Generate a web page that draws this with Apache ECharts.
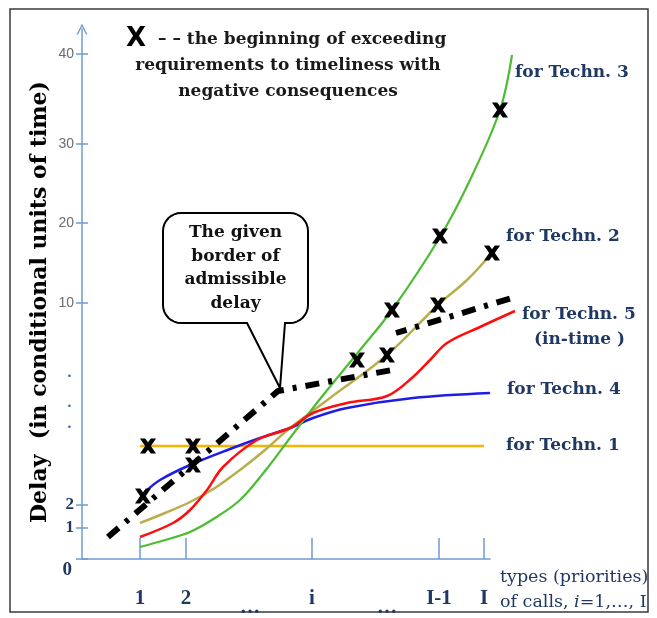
<!DOCTYPE html>
<html><head><meta charset="utf-8">
<script src="https://cdn.jsdelivr.net/npm/echarts@6/dist/echarts.min.js"></script>
<style>html,body{margin:0;padding:0;background:#fff}#c{width:657px;height:618px}</style>
</head><body><div id="c"></div>
<script>
// Axis ticks (positions in plotting units; the delay axis is drawn broken)
const xTickPos = [5.8, 10.4, 23.0, 35.7, 40.2];
const xTickLabels = ['1', '2', 'i', 'I-1', 'I'];
const xEllipsisPos = [16.8, 30.5];
const yTickPos = [0, 3.1, 5.4, 25.6, 33.6, 41.5, 50.5];
const yTickLabels = ['0', '1', '2', '10', '20', '30', '40'];
const yDotPos = [13.1, 15.2, 18.2];

// Curves
const techn1 = [[5.8, 11.3], [40.2, 11.3]];
const techn4 = [[6.3, 6.7], [7.8, 7.9], [10.8, 9.4], [14.8, 11.0], [17.8, 12.1], [20.8, 13.1], [23.1, 14.1], [26.5, 15.1], [33.1, 16.1], [40.8, 16.6]];
const techn5 = [[5.8, 2.2], [9.1, 3.6], [10.8, 4.9], [12.5, 6.9], [14.1, 9.2], [17.5, 11.9], [20.8, 13.1], [23.1, 14.6], [26.5, 15.6], [30.5, 16.3], [33.1, 18.2], [34.8, 19.9], [36.5, 21.6], [39.8, 23.2], [43.3, 24.8]];
const techn3 = [[5.8, 1.2], [8.3, 1.9], [10.8, 2.7], [13.3, 4.1], [15.8, 5.9], [18.3, 8.8], [20.8, 12.1], [23.8, 16.0], [27.8, 20.9], [31.0, 24.9], [35.8, 32.2], [38.8, 37.9], [41.8, 44.9], [43.0, 50.4]];
const techn2 = [[5.8, 3.6], [8.3, 4.6], [10.8, 5.7], [13.3, 7.1], [15.8, 8.9], [18.3, 10.9], [20.8, 13.1], [24.8, 16.1], [30.5, 20.4], [35.6, 25.4], [38.5, 27.9], [41.0, 30.6]];
const borderA = [[2.6, 2.2], [19.6, 16.8], [31.0, 18.9]];
const borderB = [[31.4, 22.6], [43.3, 26.2]];
const exceedMarks = [[6.6, 11.3], [11.1, 11.3], [11.1, 9.4], [6.1, 6.3], [27.5, 19.9], [30.5, 20.4], [31.0, 24.9], [35.6, 25.4], [35.8, 32.3], [41.0, 30.6], [41.8, 44.9]];

const serif = '"Liberation Serif","DejaVu Serif",serif';
const wserif = '"DejaVu Serif","Liberation Serif",serif';
const navy = '#1f3864';
const axisBlue = '#6f9bd3';

const yLabelMap = {};
yTickPos.forEach((v, i) => { yLabelMap[v.toFixed(1)] = yTickLabels[i]; });
yDotPos.forEach(v => { yLabelMap[v.toFixed(1)] = '•'; });
const xLabelMap = {};
xTickPos.forEach((v, i) => { xLabelMap[v.toFixed(1)] = xTickLabels[i]; });
xEllipsisPos.forEach(v => { xLabelMap[v.toFixed(1)] = '…'; });

const chart = echarts.init(document.getElementById('c'), null, {renderer: 'canvas'});

const xPath = 'path://M0,0 L6.5,0 L10,4.8 L13.5,0 L20,0 L13.6,9.5 L20,19 L13.5,19 L10,14.2 L6.5,19 L0,19 L6.4,9.5 Z';

function lineSeries(name, data, color, width) {
  return {name, type: 'line', data, smooth: 0.35, symbol: 'none', clip: false,
    xAxisIndex: 0, yAxisIndex: 0, lineStyle: {color, width}, z: 3};
}

chart.setOption({
  animation: false,
  backgroundColor: '#fff',
  grid: [
    {left: 82, right: 140, top: 29, bottom: 59, containLabel: false},
    {left: 82, right: 167, top: 29, bottom: 59, containLabel: false}
  ],
  xAxis: [{
    type: 'value', min: 0, max: 43.5, gridIndex: 0,
    axisLine: {show: false, onZero: false},
    axisTick: {show: true, inside: true, length: 21, customValues: xTickPos, lineStyle: {color: axisBlue, width: 1.5}},
    axisLabel: {
      show: true, customValues: xTickPos.concat(xEllipsisPos), margin: 29,
      formatter: v => {
        const t = xLabelMap[Number(v).toFixed(1)] || '';
        return t === '…' ? '{e|…}' : '{n|' + t + '}';
      },
      rich: {
        n: {fontFamily: serif, fontSize: 21, fontWeight: 'bold', color: navy},
        e: {fontFamily: serif, fontSize: 20, fontWeight: 'bold', color: navy, padding: [10, 0, 0, 0]}
      }
    },
    splitLine: {show: false}
  }, {
    type: 'value', min: 0, max: 40.8, gridIndex: 1,
    axisLine: {show: true, onZero: false, lineStyle: {color: axisBlue, width: 1.5}},
    axisTick: {show: false}, axisLabel: {show: false}, splitLine: {show: false}
  }],
  yAxis: [{
    type: 'value', min: 0, max: 53, gridIndex: 0,
    axisLine: {show: true, onZero: false, symbol: ['none', 'path://M0,12 L6,0 L12,12 L10.3,12 L6,3.4 L1.7,12 Z'], symbolSize: [11, 14], lineStyle: {color: axisBlue, width: 1.5}},
    axisTick: {show: true, inside: false, length: 6, customValues: yTickPos, lineStyle: {color: axisBlue, width: 1.5}},
    axisLabel: {
      show: true, customValues: yTickPos.concat(yDotPos), margin: 8,
      formatter: v => {
        const key = Number(v).toFixed(1);
        const t = yLabelMap[key] || '';
        if (t === '•') return '{d|•}';
        if (t === '0') return '{z|0}';
        if (t === '1' || t === '2') return '{n|' + t + '}';
        return '{g|' + t + '}';
      },
      rich: {
        n: {fontFamily: serif, fontSize: 17, fontWeight: 'bold', color: navy},
        z: {fontFamily: serif, fontSize: 19, fontWeight: 'bold', color: navy, padding: [22, 2, 0, 0]},
        g: {fontFamily: '"Liberation Sans Narrow","Liberation Sans",sans-serif', fontSize: 14, color: '#6b6b6b'},
        d: {fontFamily: 'DejaVu Sans', fontSize: 9, color: '#3b6cc0', padding: [0, 2, 0, 0]}
      }
    },
    splitLine: {show: false}
  }, {
    type: 'value', min: 0, max: 53, position: 'left', gridIndex: 0,
    axisLine: {show: false},
    axisTick: {show: true, inside: true, length: 6, customValues: yTickPos, lineStyle: {color: axisBlue, width: 1.5}},
    axisLabel: {show: false},
    splitLine: {show: false}
  }, {
    type: 'value', min: 0, max: 53, gridIndex: 1, show: false
  }],
  series: [
    lineSeries('Techn. 1', techn1, '#f5b400', 2.5),
    lineSeries('Techn. 4', techn4, '#1d1de6', 2.5),
    lineSeries('Techn. 2', techn2, '#b9ae4c', 2.5),
    lineSeries('Techn. 3', techn3, '#4cbd32', 2.2),
    lineSeries('Techn. 5', techn5, '#ff0d0d', 2.5),
    {name: 'border', type: 'line', data: borderA, smooth: false, symbol: 'none', clip: false, xAxisIndex: 0, yAxisIndex: 0,
      lineStyle: {color: '#000', width: 6, type: [14, 9, 4, 9], cap: 'butt'}, z: 4},
    {name: 'border2', type: 'line', data: borderB, smooth: false, symbol: 'none', clip: false, xAxisIndex: 0, yAxisIndex: 0,
      lineStyle: {color: '#000', width: 6, type: [14, 9, 4, 9], cap: 'butt', dashOffset: 3}, z: 4},
    {name: 'exceed', type: 'scatter', data: exceedMarks, symbol: xPath, symbolSize: [16, 15], xAxisIndex: 0, yAxisIndex: 0,
      itemStyle: {color: '#000', opacity: 1}, clip: false, z: 6}
  ]
});

// annotation callout anchored at a point of the border line
const tip = chart.convertToPixel({gridIndex: 0}, borderA[1]);
const tx = tip[0] + 2, ty = tip[1] - 3;
const L = tx - 117, R = tx + 28, T = ty - 175, B = ty - 65, r = 18;
const p1 = tx - 33, p2 = tx + 5;
function arc(pts, cx, cy, a0, a1) {
  for (let k = 0; k <= 8; k++) {
    const a = (a0 + (a1 - a0) * k / 8) * Math.PI / 180;
    pts.push([cx + r * Math.cos(a), cy + r * Math.sin(a)]);
  }
}
const cpts = [];
arc(cpts, R - r, T + r, -90, 0);
arc(cpts, R - r, B - r, 0, 90);
cpts.push([p2, B], [tx, ty], [p1, B]);
arc(cpts, L + r, B - r, 90, 180);
arc(cpts, L + r, T + r, 180, 270);
const cx = (L + R) / 2;
const calloutLines = ['The given', 'border of', 'admissible', 'delay'];

const rightLabels = [
  {t: 'for Techn. 3', x: 515, y: 73},
  {t: 'for Techn. 2', x: 506, y: 237},
  {t: 'for Techn. 5', x: 522, y: 315},
  {t: '(in-time )', x: 534, y: 340},
  {t: 'for Techn. 4', x: 507, y: 390},
  {t: 'for Techn. 1', x: 506, y: 446}
];

const graphics = [
  {type: 'rect', shape: {x: 10, y: 9, width: 638, height: 603}, style: {fill: 'none', stroke: '#3a3a3a', lineWidth: 1.5}, z: 0, silent: true},
  {type: 'polygon', shape: {points: cpts}, style: {fill: '#fff', stroke: '#000', lineWidth: 2}, z: 100},
  {type: 'text', x: 40, y: 302, rotation: Math.PI / 2, style: {text: 'Delay  (in conditional units of time)', font: 'bold 22px ' + wserif, fill: '#000', align: 'center', verticalAlign: 'middle'}, z: 100},
  {type: 'text', x: 126, y: 39, style: {text: 'X', font: 'bold 26px "DejaVu Sans",sans-serif', fill: '#000', align: 'left', verticalAlign: 'middle'}, z: 100},
  {type: 'text', x: 158, y: 40, style: {text: '– – the beginning of exceeding', font: 'bold 17px ' + wserif, fill: '#1a1a1a', align: 'left', verticalAlign: 'middle'}, z: 100},
  {type: 'text', x: 288, y: 66, style: {text: 'requirements to timeliness with', font: 'bold 17px ' + wserif, fill: '#1a1a1a', align: 'center', verticalAlign: 'middle'}, z: 100},
  {type: 'text', x: 288, y: 92, style: {text: 'negative consequences', font: 'bold 17px ' + wserif, fill: '#1a1a1a', align: 'center', verticalAlign: 'middle'}, z: 100},
  {type: 'text', x: 500, y: 577, style: {text: 'types (priorities)', font: '17.5px ' + wserif, fill: navy, align: 'left', verticalAlign: 'middle'}, z: 100},
  {type: 'text', x: 500, y: 602, style: {text: '{a|of calls, }{b|i}{a|=1,…, I}', rich: {a: {font: '17.5px ' + wserif, fill: navy}, b: {font: 'italic 17.5px ' + wserif, fill: navy}}, align: 'left', verticalAlign: 'middle'}, z: 100}
];
calloutLines.forEach((t, i) => {
  graphics.push({type: 'text', x: cx, y: T + 20 + i * 23.5, style: {text: t, font: 'bold 17px ' + wserif, fill: '#111', align: 'center', verticalAlign: 'middle'}, z: 101});
});
rightLabels.forEach(o => {
  graphics.push({type: 'text', x: o.x, y: o.y, style: {text: o.t, font: 'bold 17px ' + wserif, fill: navy, align: 'left', verticalAlign: 'middle'}, z: 100});
});
chart.setOption({graphic: graphics});
</script>
</body></html>
